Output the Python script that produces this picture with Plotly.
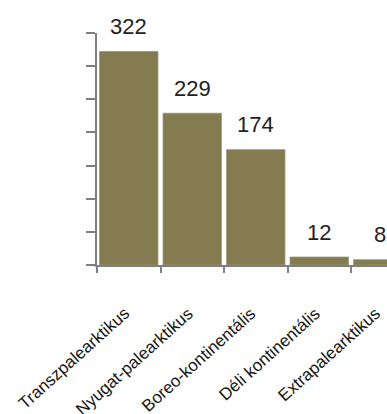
import plotly.graph_objects as go

categories = ["Transzpalearktikus", "Nyugat-palearktikus", "Boreo-kontinentális",
              "Déli kontinentális", "Extrapalearktikus"]
values = [322, 229, 174, 12, 8]
y_ticks = [0, 50, 100, 150, 200, 250, 300, 350]

bar_color = "#847C50"
axis_color = "#7f7f7f"

fig = go.Figure()
fig.add_trace(go.Bar(
    x=list(range(len(categories))), y=values,
    marker=dict(color=bar_color, line=dict(color="#9a9274", width=0.8)),
    hoverinfo="skip",
))

for i, v in enumerate(values):
    fig.add_annotation(
        x=i, y=v, text=str(v), showarrow=False,
        yanchor="middle", yshift=25, xshift=(-3 if i == len(values) - 1 else 0),
        font=dict(family="Liberation Sans, Arial", size=22, color="#222222"),
    )

for i, c in enumerate(categories):
    fig.add_annotation(
        x=i, y=0, yref="paper", text=c, showarrow=False,
        textangle=-42, xanchor="right", yanchor="top",
        xshift=(7 if i < len(categories) - 1 else 4), yshift=-36,
        font=dict(family="Liberation Sans, Arial", size=17, color="#151515"),
    )

fig.update_layout(
    width=387, height=414,
    margin=dict(l=97, r=0, t=33, b=149),
    paper_bgcolor="white", plot_bgcolor="white",
    showlegend=False,
    bargap=0.08,
    font=dict(family="Liberation Sans, Arial", color="#222222"),
)
fig.update_xaxes(
    range=[-0.5, 4.067], automargin=False,
    tickmode="array", tickvals=[-0.5, 0.5, 1.5, 2.5, 3.5], showticklabels=False,
    showline=True, linecolor=axis_color, linewidth=1.5,
    ticks="outside", ticklen=6, tickcolor=axis_color, tickwidth=1.5,
    showgrid=False, zeroline=False,
)
fig.update_yaxes(
    range=[0, 350], tickvals=y_ticks, showticklabels=False, automargin=False,
    showline=True, linecolor=axis_color, linewidth=1.5,
    ticks="outside", ticklen=9, tickcolor=axis_color, tickwidth=1.5,
    showgrid=False, zeroline=False,
)

fig.write_html(
    "out.html",
    config={"displayModeBar": False},
    post_script="document.body.style.margin='0';document.body.style.overflow='hidden';",
)
